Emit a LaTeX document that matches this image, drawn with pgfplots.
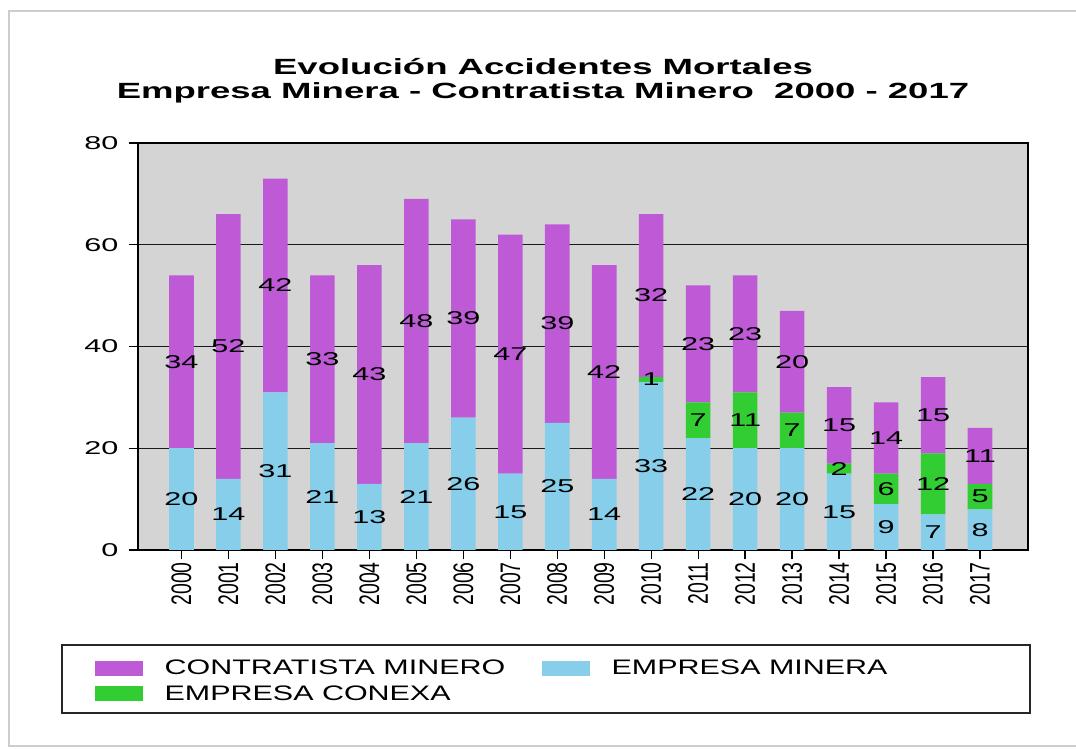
\documentclass[border=0pt]{standalone}
\usepackage{fontspec}
\setmainfont{Liberation Sans}[FakeStretch=1.65]
\newfontfamily\titlefont{Liberation Sans}[FakeStretch=1.66]
\newfontfamily\legfont{Liberation Sans}[FakeStretch=1.45]
\newfontfamily\yearfont{Liberation Sans}
\usepackage{graphicx}
\usepackage{pgfplots}
\pgfplotsset{compat=1.18}
\usepackage{pgfplotstable}

\definecolor{cpurple}{RGB}{190,90,214}
\definecolor{cblue}{RGB}{135,206,235}
\definecolor{cgreen}{RGB}{50,205,50}
\definecolor{cbg}{RGB}{212,212,212}
\definecolor{cframe}{RGB}{205,205,205}

\newcommand\yl[1]{\scalebox{1}[1.45]{\yearfont\fontsize{14.6}{15}\selectfont #1}}
\newcommand\lt[1]{\makebox[281pt][l]{\legfont\fontsize{15.75}{16}\selectfont #1}}

\pgfplotsset{mylegimg/.style={legend image code/.code={\fill[##1] (0pt,-5.625pt) rectangle (36pt,5.625pt);}}}

\pgfplotstableread{
year minera conexa contratista
2000 20 0 34
2001 14 0 52
2002 31 0 42
2003 21 0 33
2004 13 0 43
2005 21 0 48
2006 26 0 39
2007 15 0 47
2008 25 0 39
2009 14 0 42
2010 33 1 32
2011 22 7 23
2012 20 11 23
2013 20 7 20
2014 15 2 15
2015 9 6 14
2016 7 12 15
2017 8 5 11
}\datatable

\begin{document}
\begin{tikzpicture}
\useasboundingbox (0,0) rectangle (807pt,561.75pt);
\draw[line width=1.5pt, cframe] (6.75pt,2.25pt) rectangle (812pt,553.5pt);
\node[anchor=base, inner sep=0pt, font=\titlefont\bfseries\fontsize{16.5}{18}\selectfont] at (407.25pt,505.5pt) {Evolución Accidentes Mortales};
\node[anchor=base, inner sep=0pt, font=\titlefont\bfseries\fontsize{16.5}{18}\selectfont] at (407.25pt,487.5pt) {Empresa Minera - Contratista Minero~ 2000 - 2017};
\draw[line width=1.5pt, black!85] (46.5pt,27pt) rectangle (772.5pt,78pt);
\begin{axis}[
  at={(103.5pt,149.25pt)}, anchor=south west,
  scale only axis, width=667.5pt, height=305.25pt,
  ybar stacked, bar width=18.4pt,
  xmin=1999.074, xmax=2018.022, ymin=0, ymax=80,
  ytick={0,20,40,60,80},
  xtick={2000,2001,2002,2003,2004,2005,2006,2007,2008,2009,2010,2011,2012,2013,2014,2015,2016,2017},
  xticklabels={\yl{2000},\yl{2001},\yl{2002},\yl{2003},\yl{2004},\yl{2005},\yl{2006},\yl{2007},\yl{2008},\yl{2009},\yl{2010},\yl{2011},\yl{2012},\yl{2013},\yl{2014},\yl{2015},\yl{2016},\yl{2017}},
  xticklabel style={rotate=90, anchor=east, inner xsep=2pt, inner ysep=0pt},
  yticklabel style={anchor=east, inner xsep=7.5pt, inner ysep=0pt, font=\fontsize{13.9}{14}\selectfont},
  /pgf/number format/assume math mode=true,
  tick align=outside, xtick pos=bottom, ytick pos=left,
  major tick length=7pt,
  tick style={black, line width=1pt},
  axis background/.style={fill=cbg},
  axis line style={black, line width=1.5pt},
  ymajorgrids, major grid style={black!90, line width=1pt},
  nodes near coords={\ifdim\segval pt>0pt\relax\pgfmathprintnumber{\segval}\fi},
  every node near coord/.append style={anchor=center, inner sep=0pt, text=black, font=\fontsize{13.9}{14}\selectfont},
  legend columns=2,
  legend style={at={(axis description cs:-0.0483,-0.263)}, anchor=north west, draw=none, fill=none, inner sep=0pt, outer sep=0pt, column sep=0pt, row sep=2.95pt, cells={anchor=west, inner sep=0pt}},
  /tikz/every odd column/.append style={column sep=14.25pt},
]
\addlegendimage{mylegimg, fill=cpurple, draw=none}
\addlegendentry{\lt{CONTRATISTA MINERO}}
\addlegendimage{mylegimg, fill=cblue, draw=none}
\addlegendentry{\lt{EMPRESA MINERA}}
\addlegendimage{mylegimg, fill=cgreen, draw=none}
\addlegendentry{\lt{EMPRESA CONEXA}}
\addplot[fill=cblue, draw=none, visualization depends on={\thisrow{minera} \as \segval}] table[x=year, y=minera] {\datatable};
\addplot[fill=cgreen, draw=none, visualization depends on={\thisrow{conexa} \as \segval}] table[x=year, y=conexa] {\datatable};
\addplot[fill=cpurple, draw=none, visualization depends on={\thisrow{contratista} \as \segval}] table[x=year, y=contratista] {\datatable};
\end{axis}
\end{tikzpicture}
\end{document}
